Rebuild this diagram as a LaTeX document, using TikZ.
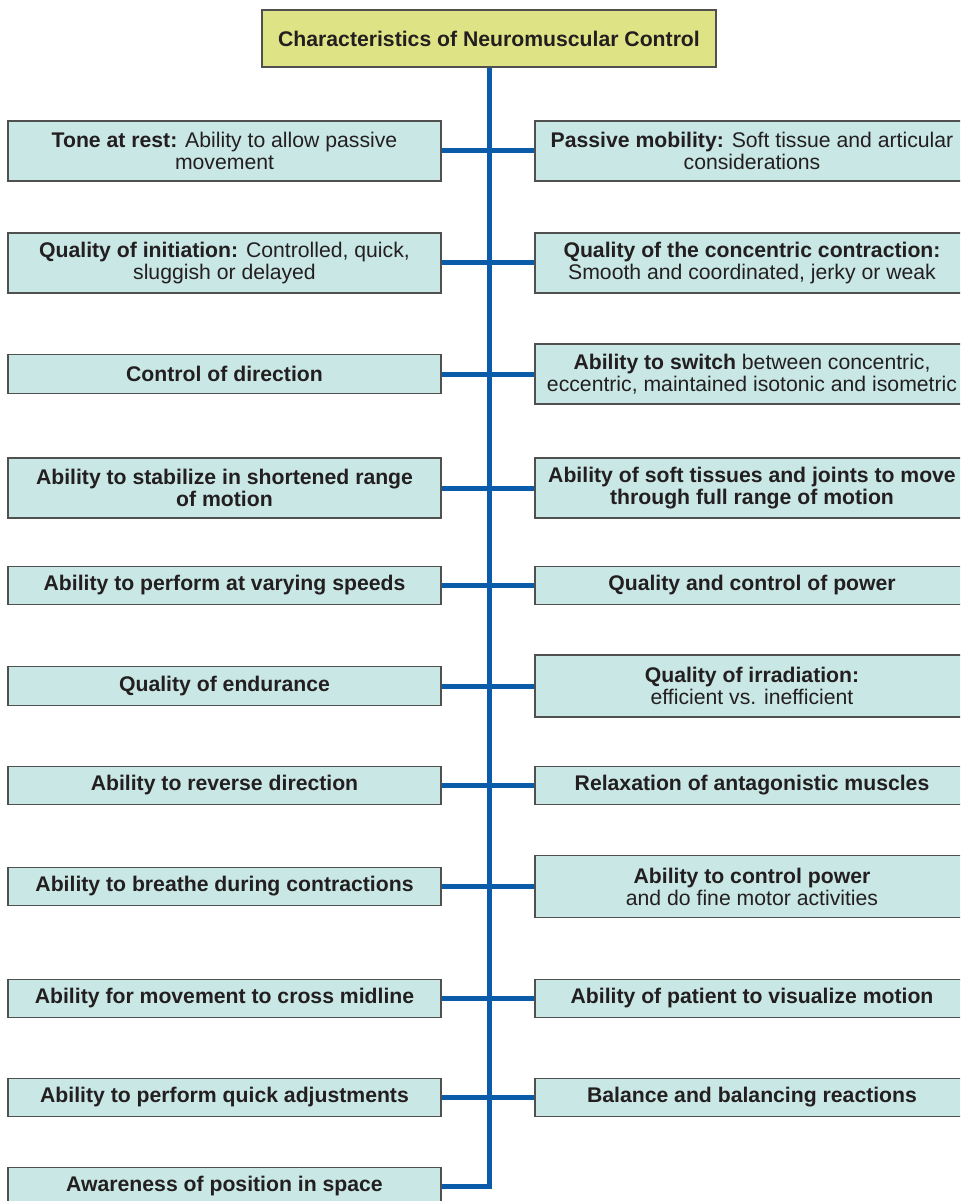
\documentclass[tikz,border=0pt]{standalone}
\usepackage{fontspec}
\setmainfont{Liberation Sans}
\usetikzlibrary{positioning}

\definecolor{boxfill}{HTML}{C9E7E4}
\definecolor{titlefill}{HTML}{DEE485}
\definecolor{boxline}{HTML}{505050}
\definecolor{spine}{HTML}{0A5BAA}
\definecolor{ink}{HTML}{231F20}

\begin{document}
\begin{tikzpicture}[
    x = 0.75pt, y = 0.75pt,
    every node/.style = {font=\fontsize{15.9}{16.5}\selectfont, text=ink},
    item/.style = {draw=boxline, line width=0.9pt, rectangle, fill=boxfill, align=center, inner sep=0pt},
    lbox/.style = {item, minimum width=324.75pt},
    rbox/.style = {item, minimum width=325.5pt},
    tall/.style = {minimum height=45pt},
    short/.style = {minimum height=29pt},
    taller/.style = {minimum height=46.5pt},
    titlebox/.style = {draw=boxline, line width=0.9pt, rectangle, fill=titlefill, minimum width=340.5pt, minimum height=42.75pt, font=\fontsize{15.9}{16.5}\selectfont\bfseries},
    line/.style = {draw=spine, line width=3.75pt}
]
    \useasboundingbox (0,0) rectangle (960,-1201);
    \clip (0,0) rectangle (960,-1201);

    % Title
    \node [titlebox] (title) at (489,-38.5) {Characteristics of Neuromuscular Control};

    % Left column
    \node [lbox, tall]  (L1)  at (224.5,-151)    {\textbf{Tone at rest:} Ability to allow passive\\movement};
    \node [lbox, tall]  (L2)  at (224.5,-263)    {\textbf{Quality of initiation:} Controlled, quick,\\sluggish or delayed};
    \node [lbox, short] (L3)  at (224.5,-374)    {\textbf{Control of direction}};
    \node [lbox, tall]  (L4)  at (224.5,-488)    {\textbf{Ability to stabilize in shortened range}\\\textbf{of motion}};
    \node [lbox, short] (L5)  at (224.5,-585.5)  {\textbf{Ability to perform at varying speeds}};
    \node [lbox, short] (L6)  at (224.5,-686)    {\textbf{Quality of endurance}};
    \node [lbox, short] (L7)  at (224.5,-785.5)  {\textbf{Ability to reverse direction}};
    \node [lbox, short] (L8)  at (224.5,-886.5)  {\textbf{Ability to breathe during contractions}};
    \node [lbox, short] (L9)  at (224.5,-998.5)  {\textbf{Ability for movement to cross midline}};
    \node [lbox, short] (L10) at (224.5,-1097.5) {\textbf{Ability to perform quick adjustments}};
    \node [lbox, short] (L11) at (224.5,-1186.5) {\textbf{Awareness of position in space}};

    % Right column
    \node [rbox, tall]   (R1)  at (752,-151)    {\textbf{Passive mobility:} Soft tissue and articular\\considerations};
    \node [rbox, tall]   (R2)  at (752,-263)    {\textbf{Quality of the concentric contraction:}\\Smooth and coordinated, jerky or weak};
    \node [rbox, tall]   (R3)  at (752,-374)    {\textbf{Ability to switch} between concentric,\\eccentric, maintained isotonic and isometric};
    \node [rbox, tall]   (R4)  at (752,-488)    {\textbf{Ability of soft tissues and joints to move}\\\textbf{through full range of motion}};
    \node [rbox, short]  (R5)  at (752,-585.5)  {\textbf{Quality and control of power}};
    \node [rbox, taller] (R6)  at (752,-686)    {\textbf{Quality of irradiation:}\\efficient vs. inefficient};
    \node [rbox, short]  (R7)  at (752,-785.5)  {\textbf{Relaxation of antagonistic muscles}};
    \node [rbox, taller] (R8)  at (752,-886.5)  {\textbf{Ability to control power}\\and do fine motor activities};
    \node [rbox, short]  (R9)  at (752,-998.5)  {\textbf{Ability of patient to visualize motion}};
    \node [rbox, short]  (R10) at (752,-1097.5) {\textbf{Balance and balancing reactions}};

    % Edges
    \draw [line] (title.south) |- (L11.east);
    \draw [line] (L1.east) -- (R1.west);
    \draw [line] (L2.east) -- (R2.west);
    \draw [line] (L3.east) -- (R3.west);
    \draw [line] (L4.east) -- (R4.west);
    \draw [line] (L5.east) -- (R5.west);
    \draw [line] (L6.east) -- (R6.west);
    \draw [line] (L7.east) -- (R7.west);
    \draw [line] (L8.east) -- (R8.west);
    \draw [line] (L9.east) -- (R9.west);
    \draw [line] (L10.east) -- (R10.west);

\end{tikzpicture}
\end{document}
